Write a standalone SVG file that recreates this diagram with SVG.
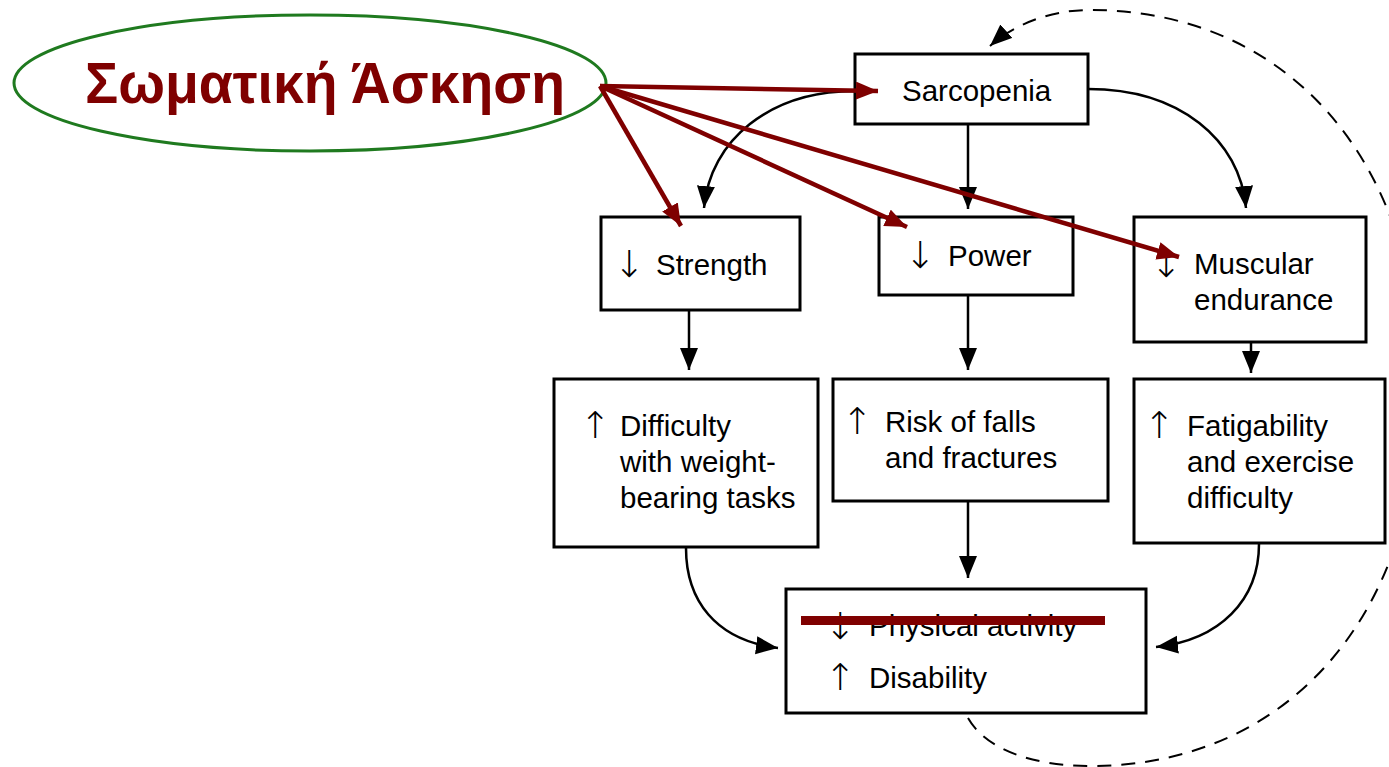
<svg xmlns="http://www.w3.org/2000/svg" width="1389" height="767" viewBox="0 0 1389 767">
<style>
.box{fill:#fff;stroke:#000;stroke-width:3}
.t{font-family:"Liberation Sans",Arial,sans-serif;font-size:29.5px;fill:#000}
.ar{font-family:"DejaVu Sans",sans-serif;font-size:37px;font-weight:200;fill:#000;text-anchor:middle}
.con{fill:none;stroke:#000;stroke-width:2.5}
.dash{fill:none;stroke:#000;stroke-width:2;stroke-dasharray:14 10}
.red{fill:none;stroke:#7f0000;stroke-width:4.5}
</style>
<defs>
<marker id="ab" markerUnits="userSpaceOnUse" markerWidth="24" markerHeight="20" refX="22" refY="9" orient="auto">
<path d="M0,0 L22,9 L0,18 z" fill="#000"/>
</marker>
<marker id="ar" markerUnits="userSpaceOnUse" markerWidth="24" markerHeight="20" refX="22" refY="9" orient="auto">
<path d="M0,0 L22,9 L0,18 z" fill="#7f0000"/>
</marker>
</defs>
<rect width="1389" height="767" fill="#fff"/>

<g id="exercise">
<ellipse cx="310" cy="83" rx="296" ry="68" fill="none" stroke="#1f7a1f" stroke-width="3"/>
<text x="85" y="103" textLength="480" lengthAdjust="spacingAndGlyphs" font-family="'Liberation Sans',Arial,sans-serif" font-weight="bold" font-size="58" fill="#7f0000">Σωματική Άσκηση</text>
</g>

<g id="sarcopenia">
<rect class="box" x="855" y="54" width="233" height="70"/>
<text class="t" x="902" y="101">Sarcopenia</text>
</g>
<g id="strength">
<rect class="box" x="601" y="217" width="199" height="93"/>
<text class="ar" x="629" y="277">↓</text>
<text class="t" x="656" y="275">Strength</text>
</g>
<g id="power">
<rect class="box" x="879" y="217" width="194" height="78"/>
<text class="ar" x="920" y="268">↓</text>
<text class="t" x="948" y="266">Power</text>
</g>
<g id="endurance">
<rect class="box" x="1134" y="217" width="232" height="125"/>
<text class="ar" x="1166" y="277">↓</text>
<text class="t" x="1194" y="274">Muscular</text>
<text class="t" x="1194" y="310">endurance</text>
</g>
<g id="difficulty">
<rect class="box" x="554" y="379" width="264" height="168"/>
<text class="ar" x="595" y="438">↑</text>
<text class="t" x="620" y="436">Difficulty</text>
<text class="t" x="620" y="472">with weight-</text>
<text class="t" x="620" y="508">bearing tasks</text>
</g>
<g id="risk">
<rect class="box" x="833" y="379" width="275" height="122"/>
<text class="ar" x="857" y="434">↑</text>
<text class="t" x="885" y="432">Risk of falls</text>
<text class="t" x="885" y="468">and fractures</text>
</g>
<g id="fatigability">
<rect class="box" x="1134" y="379" width="251" height="164"/>
<text class="ar" x="1159" y="438">↑</text>
<text class="t" x="1187" y="436">Fatigability</text>
<text class="t" x="1187" y="472">and exercise</text>
<text class="t" x="1187" y="508">difficulty</text>
</g>
<g id="disability">
<rect class="box" x="786" y="589" width="360" height="124"/>
<text class="ar" x="840" y="639">↓</text>
<text class="t" x="869" y="636">Physical activity</text>
<text class="ar" x="840" y="690">↑</text>
<text class="t" x="869" y="688">Disability</text>
<rect x="801" y="616" width="304" height="9" fill="#7f0000"/>
</g>

<g id="connectors">
<path class="con" d="M855 91 C770 91 710 140 704 208" marker-end="url(#ab)"/>
<path class="con" d="M1088 89 C1180 89 1240 140 1246 208" marker-end="url(#ab)"/>
<path class="con" d="M968 125 L968 209" marker-end="url(#ab)"/>
<path class="con" d="M689 311 L689 370" marker-end="url(#ab)"/>
<path class="con" d="M968 296 L968 370" marker-end="url(#ab)"/>
<path class="con" d="M1251 343 L1251 373" marker-end="url(#ab)"/>
<path class="con" d="M968 502 L968 578" marker-end="url(#ab)"/>
<path class="con" d="M686 548 C686 600 715 640 778 648" marker-end="url(#ab)"/>
<path class="con" d="M1259 544 C1259 600 1220 640 1156 647" marker-end="url(#ab)"/>
<path class="dash" d="M968 718 C985 748 1030 766 1090 766 C1288 766 1420 615 1420 388 C1420 161 1288 10 1090 10 C1045 10 1010 28 990 46" marker-end="url(#ab)"/>
<path class="red" d="M600 86 L878 91" marker-end="url(#ar)"/>
<path class="red" d="M600 86 L681 226" marker-end="url(#ar)"/>
<path class="red" d="M600 86 L907 227" marker-end="url(#ar)"/>
<path class="red" d="M600 86 L1179 257" marker-end="url(#ar)"/>
</g>
</svg>
